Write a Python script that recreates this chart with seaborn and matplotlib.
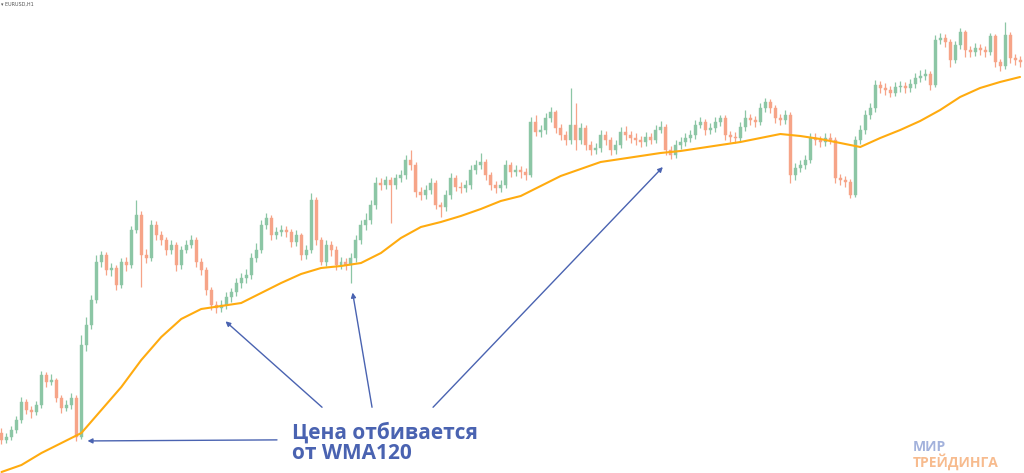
import numpy as np
import matplotlib
matplotlib.use("Agg")
import matplotlib.pyplot as plt
import seaborn as sns

# ---- data (prices in 1/10000 units, EURUSD H1) ----
first_open_pips = 840
close_pips = [833,836,843,853,871,863,861,868,898,891,
              893,875,865,868,875,836,928,948,973,1011,
              1018,1003,1005,988,1011,1008,1043,1058,1018,1015,
              1048,1038,1033,1023,1028,1008,1023,1028,1033,1011,
              1003,983,968,965,968,976,981,990,995,998,
              1015,1023,1048,1055,1038,1041,1043,1041,1031,1038,
              1018,1023,1073,1033,1011,1028,1023,1008,1011,1008,
              1015,1033,1048,1053,1068,1090,1088,1093,1088,1095,
              1098,1113,1108,1081,1078,1083,1090,1068,1066,1078,
              1095,1086,1085,1088,1103,1108,1111,1098,1088,1085,
              1088,1108,1101,1103,1101,1098,1151,1141,1143,1155,
              1161,1145,1138,1133,1148,1133,1145,1128,1123,1125,
              1138,1133,1123,1128,1141,1138,1135,1133,1131,1136,
              1133,1143,1146,1123,1118,1128,1131,1135,1138,1148,
              1151,1143,1145,1151,1155,1138,1136,1135,1146,1155,
              1153,1151,1165,1171,1165,1155,1153,1158,1098,1105,
              1108,1113,1135,1133,1131,1135,1133,1095,1093,1091,
              1078,1133,1143,1158,1165,1188,1185,1183,1180,1186,
              1187,1185,1189,1195,1197,1199,1188,1233,1235,1231,
              1213,1228,1241,1223,1221,1225,1223,1221,1237,1211,
              1207,1238,1215,1213,1211]
high_pips = [845,840,847,857,876,874,867,872,902,901,
             899,895,878,873,880,878,938,956,978,1018,
             1022,1021,1010,1008,1015,1016,1047,1073,1062,1024,
             1053,1052,1042,1036,1033,1031,1027,1033,1038,1036,
             1015,1006,986,972,973,981,985,995,1000,1004,
             1020,1030,1053,1060,1058,1046,1048,1047,1044,1043,
             1040,1028,1080,1076,1036,1033,1032,1027,1016,1015,
             1020,1038,1053,1060,1073,1096,1095,1097,1096,1099,
             1103,1118,1123,1111,1086,1088,1095,1093,1071,1083,
             1100,1098,1091,1093,1108,1113,1120,1114,1101,1092,
             1093,1113,1111,1108,1107,1105,1156,1158,1148,1160,
             1166,1163,1149,1142,1185,1170,1150,1148,1132,1130,
             1143,1142,1136,1133,1146,1147,1142,1140,1137,1141,
             1140,1148,1152,1149,1127,1133,1136,1140,1143,1153,
             1156,1154,1150,1156,1158,1158,1142,1141,1151,1163,
             1159,1157,1170,1175,1174,1168,1159,1163,1161,1110,
             1113,1118,1140,1140,1137,1140,1140,1136,1099,1097,
             1094,1137,1148,1163,1170,1193,1192,1190,1187,1191,
             1192,1191,1194,1200,1203,1204,1202,1238,1240,1239,
             1234,1232,1245,1243,1227,1230,1229,1227,1240,1239,
             1214,1251,1241,1219,1217]
low_pips = [829,830,833,840,850,859,855,858,865,886,
            888,871,860,862,864,832,834,922,944,970,
            1006,998,997,983,985,1002,1005,1040,986,1010,
            1012,1033,1028,1018,1019,1002,1004,1020,1025,1006,
            998,978,963,960,961,964,971,977,985,990,
            994,1011,1020,1044,1033,1034,1037,1036,1026,1027,
            1013,1014,1020,1028,1008,1007,1017,1003,1004,1003,
            990,1011,1029,1043,1049,1064,1083,1084,1050,1084,
            1091,1094,1103,1076,1073,1074,1079,1064,1056,1062,
            1074,1082,1080,1081,1084,1099,1104,1093,1083,1080,
            1081,1085,1096,1097,1095,1093,1096,1137,1136,1139,
            1151,1140,1133,1128,1129,1123,1129,1123,1118,1119,
            1121,1128,1118,1119,1125,1133,1130,1128,1126,1127,
            1129,1130,1140,1118,1114,1115,1124,1127,1131,1134,
            1145,1138,1139,1141,1147,1133,1131,1130,1131,1142,
            1148,1146,1148,1161,1160,1150,1148,1149,1090,1093,
            1101,1104,1110,1128,1126,1127,1129,1090,1088,1086,
            1075,1076,1129,1139,1154,1161,1180,1178,1176,1177,
            1181,1180,1181,1185,1191,1193,1183,1186,1229,1226,
            1206,1210,1224,1216,1216,1217,1218,1216,1218,1206,
            1202,1204,1210,1208,1206]
# WMA(120) sampled every 4 bars
wma_step = 4
wma_pips = [801,808,820,830,840,863,886,913,936,954,
            964,967,970,980,990,999,1005,1007,1010,1020,
            1035,1046,1051,1057,1064,1072,1077,1087,1097,1104,
            1111,1114,1117,1120,1122,1125,1128,1131,1135,1139,
            1137,1134,1130,1126,1135,1143,1152,1163,1176,1185,
            1191,1196]
# bars where price bounces off the WMA
bounce_bars = [15, 43, 70, 134]
annotation_text = "Цена отбивается\nот WMA120"
symbol_label = "▾ EURUSD,H1"
logo_top, logo_bottom = "МИР", "ТРЕЙДИНГА"

# ---- build arrays ----
close = 1 + np.array(close_pips) / 10000
high = 1 + np.array(high_pips) / 10000
low = 1 + np.array(low_pips) / 10000
opn = np.r_[1 + first_open_pips / 10000, close[:-1]]
idx = np.arange(len(close))
wma = 1 + np.array(wma_pips) / 10000
wma_idx = np.arange(len(wma)) * wma_step

sns.set_theme(style="white")
plt.rcParams['font.family'] = ['Open Sans', 'DejaVu Sans']

fig = plt.figure(figsize=(10.24, 4.73), dpi=100)
ax = fig.add_axes([0, 0, 1, 1])
ax.set_facecolor("white")

up_c, dn_c = "#8cc6a5", "#f6a488"
up = close >= opn
colors = np.where(up, up_c, dn_c)
ax.vlines(idx, low, high, colors=colors, lw=0.9, zorder=2)
ax.bar(idx, np.abs(close - opn) + 0.00004, bottom=np.minimum(close, opn),
       width=0.6, color=colors, edgecolor=colors, lw=0.3, zorder=3)

sns.lineplot(x=wma_idx, y=wma, color="#ffab0f", lw=1.5, ax=ax, zorder=4)

ax.set_xlim(-0.3, 204.8)
ax.set_ylim(1.0800, 1.1273)
ax.axis("off")

blue = "#4a63b1"
tails = [(0.2705, 0.070), (0.3145, 0.139), (0.3633, 0.139), (0.4229, 0.139)]
shr = [8, 9, 7, 8]
for b, t, s in zip(bounce_bars, tails, shr):
    ax.annotate("", xy=(b, low[b]), xycoords="data", xytext=t, textcoords="axes fraction",
                arrowprops=dict(arrowstyle="-|>", color=blue, lw=1.0, mutation_scale=7,
                                shrinkA=0, shrinkB=s), zorder=5)

ax.text(0.285, 0.108, annotation_text, transform=ax.transAxes, ha="left", va="top",
        fontsize=15, fontweight="bold", color=blue, linespacing=1.0, zorder=6)

ax.text(0.001, 0.997, symbol_label, transform=ax.transAxes, ha="left", va="top",
        fontsize=3.5, color="#555555", family=['DejaVu Sans'])

ax.text(0.891, 0.046, logo_top, transform=ax.transAxes, ha="left", va="baseline",
        fontsize=10, fontweight="bold", color="#a3b2dc")
ax.text(0.891, 0.014, logo_bottom, transform=ax.transAxes, ha="left", va="baseline",
        fontsize=10, fontweight="bold", color="#f7bb8e")

fig.savefig("out.png", dpi=100, facecolor="white")
